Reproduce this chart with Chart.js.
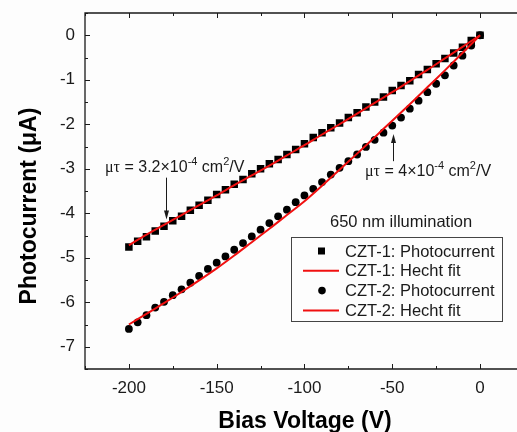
<!DOCTYPE html>
<html>
<head>
<meta charset="utf-8">
<script src="https://cdn.jsdelivr.net/npm/chart.js@4"></script>
<style>
  html, body { margin: 0; padding: 0; overflow: hidden; background: #fdfdfd; }
  #wrap { width: 525px; height: 432px; }
</style>
</head>
<body>
<div id="wrap"><canvas id="c" width="525" height="432"></canvas></div>
<script>
// bias voltage (V), measured every 5 V
const voltage = [0, -5, -10, -15, -20, -25, -30, -35, -40, -45, -50, -55, -60, -65, -70, -75, -80, -85, -90, -95,
  -100, -105, -110, -115, -120, -125, -130, -135, -140, -145, -150, -155, -160, -165, -170, -175, -180, -185, -190, -195, -200];
const czt1Current = [0, -0.12, -0.27, -0.40, -0.52, -0.64, -0.77, -0.88, -1.02, -1.13, -1.24, -1.39, -1.50, -1.61, -1.74, -1.85, -1.97, -2.08, -2.19, -2.30,
  -2.44, -2.57, -2.68, -2.79, -2.89, -3.00, -3.11, -3.24, -3.35, -3.47, -3.58, -3.71, -3.82, -3.93, -4.07, -4.17, -4.29, -4.40, -4.53, -4.63, -4.76];
const czt2Current = [0, -0.23, -0.46, -0.68, -0.90, -1.09, -1.28, -1.47, -1.65, -1.85, -2.03, -2.19, -2.35, -2.51, -2.68, -2.83, -2.98, -3.13, -3.30, -3.45,
  -3.60, -3.75, -3.92, -4.07, -4.22, -4.37, -4.52, -4.67, -4.82, -4.97, -5.11, -5.25, -5.41, -5.56, -5.71, -5.84, -5.99, -6.12, -6.29, -6.45, -6.60];

// Hecht fit curves, read every 10 V
const fitVoltage = [0, -10, -20, -30, -40, -50, -60, -70, -80, -90, -100, -110, -120, -130, -140, -150, -160, -170, -180, -190, -200];
const czt1Fit = [0, -0.26, -0.52, -0.78, -1.03, -1.28, -1.52, -1.76, -2.00, -2.23, -2.47, -2.70, -2.93, -3.15, -3.37, -3.60, -3.82, -4.04, -4.26, -4.48, -4.72];
const czt2Fit = [0, -0.40, -0.79, -1.17, -1.55, -1.92, -2.29, -2.66, -3.02, -3.38, -3.73, -4.04, -4.35, -4.65, -4.95, -5.24, -5.51, -5.77, -6.02, -6.26, -6.50];

const xTicks = [-200, -150, -100, -50, 0];
const yTicks = [0, -1, -2, -3, -4, -5, -6, -7];

const seriesNames = ['CZT-1: Photocurrent', 'CZT-1: Hecht fit', 'CZT-2: Photocurrent', 'CZT-2: Hecht fit'];

const pts = (xs, ys) => xs.map((x, i) => ({ x: x, y: ys[i] }));

const RED = '#f01010';
const INK = '#1a1a1a';
const SANS = '"Liberation Sans", Arial, sans-serif';

// inward major/minor ticks, frame and text annotations
const decor = {
  id: 'decor',
  afterDraw(chart) {
    const ctx = chart.ctx;
    const a = chart.chartArea;
    const xs = chart.scales.x, ys = chart.scales.y;
    ctx.save();
    ctx.strokeStyle = INK;
    ctx.lineWidth = 1.3;
    ctx.beginPath();
    ctx.moveTo(a.right + 10, a.top); ctx.lineTo(a.left, a.top);
    ctx.lineTo(a.left, a.bottom); ctx.lineTo(a.right + 10, a.bottom);
    ctx.stroke();

    ctx.lineWidth = 1;
    ctx.beginPath();
    for (let v = -225; v <= 0; v += 25) {
      const px = Math.round(xs.getPixelForValue(v)) + 0.5;
      const len = v % 50 === 0 ? 5 : 3;
      ctx.moveTo(px, a.bottom); ctx.lineTo(px, a.bottom - len);
      ctx.moveTo(px, a.top); ctx.lineTo(px, a.top + len);
    }
    for (let v = 0.5; v >= -7.5; v -= 0.5) {
      const py = Math.round(ys.getPixelForValue(v)) + 0.5;
      const len = Number.isInteger(v) ? 5 : 3;
      ctx.moveTo(a.left, py); ctx.lineTo(a.left + len, py);
    }
    ctx.stroke();

    // axis titles
    ctx.fillStyle = '#000';
    ctx.font = 'bold 23px ' + SANS;
    ctx.textAlign = 'center';
    ctx.textBaseline = 'alphabetic';
    ctx.fillText('Bias Voltage (V)', 305, 428);
    ctx.save();
    ctx.translate(36, 206);
    ctx.rotate(-Math.PI / 2);
    ctx.fillText('Photocurrent (\u03bcA)', 0, 0);
    ctx.restore();

    // mu-tau labels
    const mutau = (x, y, exp) => {
      const parts = [
        ['\u03bc\u03c4', '16px "Liberation Serif", serif', 0],
        [' = ' + exp + '\u00d710', '16px ' + SANS, 0],
        ['-4', '11px ' + SANS, -7],
        [' cm', '16px ' + SANS, 0],
        ['2', '11px ' + SANS, -7],
        ['/V', '16px ' + SANS, 0]
      ];
      ctx.textAlign = 'left';
      let cx = x;
      for (const [t, f, dy] of parts) {
        ctx.font = f;
        ctx.fillText(t, cx, y + dy);
        cx += ctx.measureText(t).width;
      }
    };
    ctx.fillStyle = INK;
    mutau(105, 172, '3.2');
    mutau(365, 175.5, '4');

    const arrow = (xv, y0v, y1v) => {
      const x = Math.round(xs.getPixelForValue(xv)) + 0.5;
      const y0 = ys.getPixelForValue(y0v), y1 = ys.getPixelForValue(y1v);
      const dir = y1 > y0 ? 1 : -1;
      ctx.strokeStyle = INK; ctx.lineWidth = 1;
      ctx.beginPath(); ctx.moveTo(x, y0); ctx.lineTo(x, y1 - dir * 7); ctx.stroke();
      ctx.beginPath();
      ctx.moveTo(x, y1); ctx.lineTo(x - 2.5, y1 - dir * 9); ctx.lineTo(x + 2.5, y1 - dir * 9);
      ctx.closePath(); ctx.fill();
    };
    arrow(-179, -3.2, -4.14);
    arrow(-49.5, -2.83, -2.22);

    ctx.font = '16.5px ' + SANS;
    ctx.fillStyle = INK;
    ctx.textAlign = 'left';
    ctx.fillText('650 nm illumination', 330, 226.5);

    // legend
    const lx = 291, ly = 237, lw = 211, lh = 84;
    ctx.strokeStyle = '#444'; ctx.lineWidth = 1;
    ctx.strokeRect(lx + 0.5, ly + 0.5, lw, lh);
    ctx.textBaseline = 'middle';
    seriesNames.forEach((name, i) => {
      const y = ly + 14 + i * 19.8;
      const ds = chart.data.datasets[i];
      if (ds.showLine === false) {
        ctx.fillStyle = '#000';
        if (ds.pointStyle === 'rect') {
          ctx.fillRect(lx + 27, y - 3.5, 7, 7);
        } else {
          ctx.beginPath(); ctx.arc(lx + 31, y, 3.8, 0, Math.PI * 2); ctx.fill();
        }
      } else {
        ctx.strokeStyle = RED; ctx.lineWidth = 2;
        ctx.beginPath(); ctx.moveTo(lx + 12, y); ctx.lineTo(lx + 48, y); ctx.stroke();
      }
      ctx.fillStyle = INK;
      ctx.font = '16.5px ' + SANS;
      ctx.fillText(name, lx + 54, y + 1);
    });
    ctx.restore();
  }
};

new Chart(document.getElementById('c'), {
  type: 'scatter',
  data: {
    datasets: [
      { label: seriesNames[0], data: pts(voltage, czt1Current), showLine: false, pointStyle: 'rect',
        pointRadius: 5.3, backgroundColor: '#000', borderColor: '#000', borderWidth: 0, order: 2 },
      { label: seriesNames[1], data: pts(fitVoltage, czt1Fit), showLine: true, pointRadius: 0,
        borderColor: RED, borderWidth: 2, cubicInterpolationMode: 'monotone', order: 0 },
      { label: seriesNames[2], data: pts(voltage, czt2Current), showLine: false, pointStyle: 'circle',
        pointRadius: 3.9, backgroundColor: '#000', borderColor: '#000', borderWidth: 0, order: 2 },
      { label: seriesNames[3], data: pts(fitVoltage, czt2Fit), showLine: true, pointRadius: 0,
        borderColor: RED, borderWidth: 2, cubicInterpolationMode: 'monotone', order: 0 }
    ]
  },
  options: {
    responsive: false,
    animation: false,
    events: [],
    layout: { padding: { top: 13, right: 1, left: 0, bottom: 0 } },
    plugins: { legend: { display: false }, tooltip: { enabled: false } },
    scales: {
      x: {
        // right end of the frame falls just outside the picture
        type: 'linear', min: -225, max: 22.6,
        grid: { display: false, drawTicks: false },
        border: { display: false },
        afterBuildTicks: s => { s.ticks = xTicks.map(v => ({ value: v })); },
        afterFit: s => { s.height = 63; s.paddingLeft = 0; s.paddingRight = 0; },
        ticks: { color: INK, font: { family: SANS, size: 17 }, padding: 9, maxRotation: 0 }
      },
      y: {
        type: 'linear', min: -7.5, max: 0.5,
        grid: { display: false, drawTicks: false },
        border: { display: false },
        afterBuildTicks: s => { s.ticks = yTicks.map(v => ({ value: v })); },
        afterFit: s => { s.width = 85; s.paddingTop = 0; s.paddingBottom = 0; },
        ticks: { color: INK, font: { family: SANS, size: 17 }, padding: 10 }
      }
    }
  },
  plugins: [decor]
});
</script>
</body>
</html>
